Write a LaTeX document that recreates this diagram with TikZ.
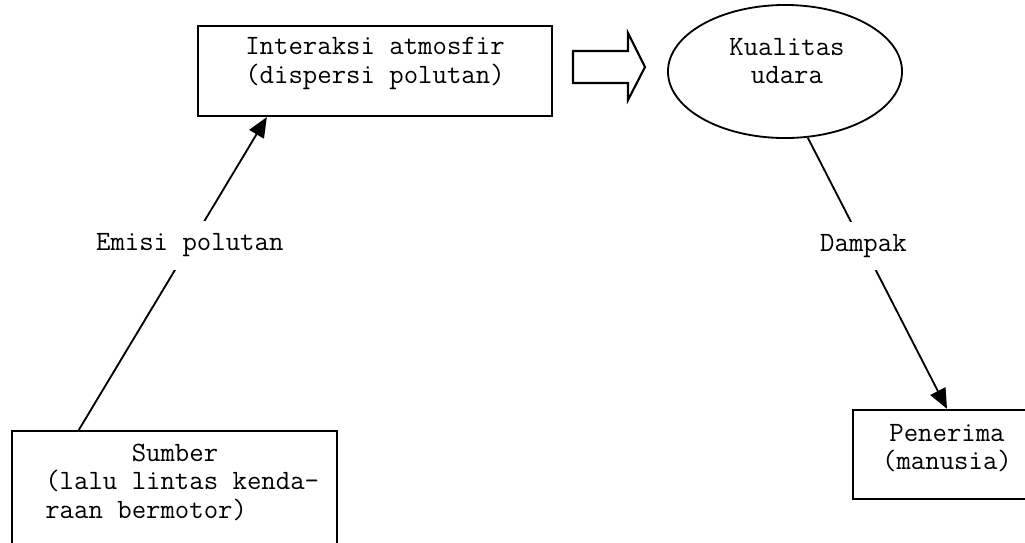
\documentclass[tikz,border=0pt]{standalone}
\usepackage{fontspec}
\usetikzlibrary{arrows.meta,shapes.geometric}
\tikzset{
	box/.style={draw, line width=1.6pt, inner sep=0pt},
	oval/.style={draw, ellipse, line width=1.3pt, inner sep=0pt},
	txt/.style={font=\ttfamily\fontsize{19.9}{20}\selectfont, align=center, inner sep=0pt},
	link/.style={line width=1.3pt, -{Triangle[length=0.5cm,width=0.42cm]}},
	tag/.style={txt, fill=white, inner xsep=5pt, inner ysep=9pt}
}
\begin{document}
\begin{tikzpicture}[x=0.025cm, y=-0.025cm]
	\useasboundingbox (0,0) rectangle (1025,542);
	% kotak dan elips
	\node[box, minimum width=8.85cm, minimum height=2.25cm] at (375,71) (atm) {};
	\node[oval, minimum width=5.85cm, minimum height=3.325cm] at (785,71.5) (qual) {};
	\node[box, minimum width=4.7cm, minimum height=2.225cm] at (947,454.5) (pen) {};
	\node[box, minimum width=8.125cm, minimum height=3.475cm] at (174.5,500.5) (src) {};
	% teks
	\node[txt, anchor=base] at (375,83) (atmtext) {Interaksi atmosfir\\(dispersi polutan)};
	\node[txt, anchor=base] at (787,83.5) (qualtext) {Kualitas\\udara};
	\node[txt, anchor=base] at (947,469.5) (pentext) {Penerima\\(manusia)};
	\node[txt, anchor=base west, align=left] at (45,518) (srctext) {\phantom{Sumber}Sumber\\(lalu lintas kenda-\\raan bermotor)};
	% panah blok
	\draw[line width=1.5pt, line join=miter] (573,51) -- (628,51) -- (628,33) -- (645,67)
		-- (628,100) -- (628,83) -- (573,83) -- cycle;
	% hubungan
	\draw[link] ([xshift=1.7cm]src.north west) -- node[tag, pos=0.59] (emisi) {Emisi polutan} ([xshift=1.75cm]atm.south west);
	\draw[link] (qual.-71) -- node[tag, pos=0.4] (dampak) {Dampak} (pen.north);
\end{tikzpicture}
\end{document}
